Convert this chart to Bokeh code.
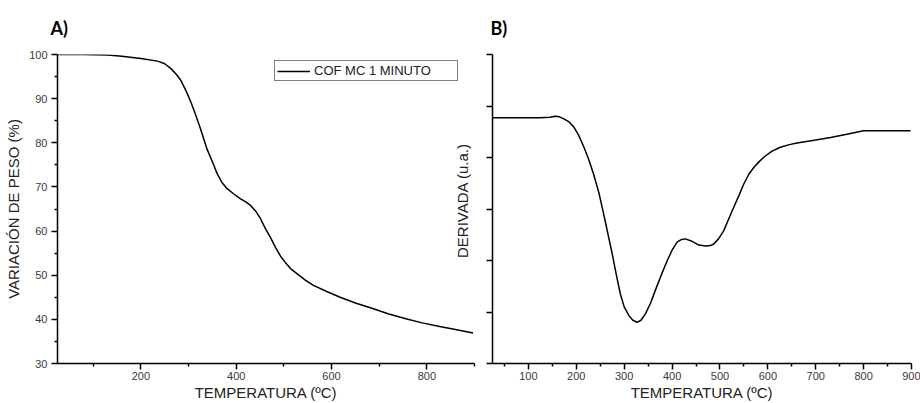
from bokeh.plotting import figure
from bokeh.layouts import row
from bokeh.models import FixedTicker, Label, Range1d
from bokeh.embed import file_html
from bokeh.resources import INLINE
import math

# ---- Panel A: TGA (weight %) ----
temp_a = [25, 80, 130, 160, 200, 235, 250, 263, 275, 284, 295, 305, 315, 325, 339,
          353, 360, 370, 381, 395, 409, 420, 430, 441, 451, 461, 472, 483, 493, 503,
          514, 528, 545, 562, 590, 618, 650, 688, 720, 758, 790, 827, 860, 897]
peso_a = [100.0, 100.0, 99.9, 99.6, 99.1, 98.5, 97.9, 96.8, 95.4, 94.1, 91.7, 89.2, 86.3,
          83.2, 78.5, 74.9, 73.0, 71.0, 69.6, 68.4, 67.3, 66.6, 65.8, 64.5, 62.8, 60.6,
          58.5, 56.2, 54.3, 52.9, 51.5, 50.3, 48.9, 47.7, 46.3, 45.0, 43.7, 42.4, 41.2,
          40.1, 39.2, 38.4, 37.7, 36.9]

# ---- Panel B: DTG (derivative, arbitrary units) ----
temp_b = [25, 100, 125, 145, 155, 165, 174, 185, 195, 205, 216, 226, 236, 247, 257, 266,
          275, 283, 292, 300, 310, 318, 327, 335, 344, 355, 365, 378, 390, 400, 411, 420,
          428, 440, 456, 470, 480, 487, 497, 508, 518, 529, 540, 550, 560, 571, 582, 592,
          608, 626, 645, 661, 700, 731, 765, 800, 850, 898]
deriv_b = [4.77, 4.77, 4.77, 4.78, 4.80, 4.79, 4.75, 4.69, 4.59, 4.43, 4.20, 3.96, 3.68,
           3.32, 2.91, 2.52, 2.13, 1.75, 1.35, 1.10, 0.93, 0.84, 0.80, 0.84, 0.96, 1.17,
           1.42, 1.73, 2.00, 2.20, 2.36, 2.41, 2.42, 2.38, 2.30, 2.28, 2.29, 2.32, 2.42,
           2.58, 2.80, 3.04, 3.27, 3.49, 3.67, 3.81, 3.92, 4.01, 4.12, 4.20, 4.25, 4.28,
           4.34, 4.39, 4.45, 4.52, 4.52, 4.52]

xticks_a = [200, 400, 600, 800]
xminor_a = [100, 300, 500, 700, 900]
yticks_a = [30, 40, 50, 60, 70, 80, 90, 100]
yminor_a = [35, 45, 55, 65, 75, 85, 95]
xticks_b = [100, 200, 300, 400, 500, 600, 700, 800, 900]
xminor_b = [50, 150, 250, 350, 450, 550, 650, 750, 850]
yticks_b = [0, 1, 2, 3, 4, 5, 6]

legend_text = "COF MC 1 MINUTO"
xlabel = "TEMPERATURA (ºC)"
ylabel_a = "VARIACIÓN DE PESO (%)"
ylabel_b = "DERIVADA (u.a.)"

FONT = "Liberation Sans"


def style_axes(p):
    for ax in (p.xaxis[0], p.yaxis[0]):
        ax.axis_line_color = "black"
        ax.axis_line_width = 1.5
        ax.major_tick_line_color = "black"
        ax.major_tick_line_width = 1.5
        ax.minor_tick_line_color = "black"
        ax.minor_tick_line_width = 1.5
        ax.major_tick_out = 6
        ax.major_tick_in = 0
        ax.minor_tick_out = 3
        ax.minor_tick_in = 0
        ax.major_label_text_font = FONT
        ax.major_label_text_font_size = "11px"
        ax.major_label_text_color = "#3a3a3a"
        ax.axis_label_text_font = FONT
        ax.axis_label_text_font_size = "15px"
        ax.axis_label_text_font_style = "normal"
        ax.axis_label_text_color = "#222222"
    p.xaxis.major_label_standoff = 2
    p.xaxis.axis_label_standoff = 1
    p.yaxis.major_label_standoff = 4
    p.yaxis.axis_label_standoff = 4
    p.xgrid.visible = False
    p.ygrid.visible = False
    p.outline_line_color = None
    p.title.text_font = "Lato"
    p.title.text_font_size = "18px"
    p.title.text_font_style = "bold"
    p.title.text_color = "black"
    p.title.align = "left"
    p.title.vertical_align = "middle"
    p.title.standoff = 30


# Panel A
pa = figure(width=480, height=403, output_backend="svg", toolbar_location=None,
            x_range=Range1d(25, 900), y_range=Range1d(30, 100),
            min_border_left=57, min_border_right=6, min_border_top=54,
            min_border_bottom=40, title="A)")
pa.line(temp_a, peso_a, line_color="black", line_width=1.5, legend_label=legend_text)
pa.xaxis.ticker = FixedTicker(ticks=xticks_a, minor_ticks=xminor_a)
pa.yaxis.ticker = FixedTicker(ticks=yticks_a, minor_ticks=yminor_a)
pa.xaxis.axis_label = xlabel
pa.yaxis.axis_label = ylabel_a
style_axes(pa)
pa.title.offset = -7

lg = pa.legend[0]
lg.location = (217, 282)
lg.border_line_color = "black"
lg.border_line_width = 1
lg.background_fill_color = "white"
lg.background_fill_alpha = 1
lg.padding = 2
lg.margin = 0
lg.spacing = 0
lg.glyph_width = 33
lg.glyph_height = 12
lg.label_height = 12
lg.label_standoff = 4
lg.label_width = 141
lg.label_text_font = FONT
lg.label_text_font_size = "13px"
lg.label_text_color = "#222222"

# Y-axis label of panel B (sits left of panel B's axis)
pa.add_layout(Label(x=875, y=66.9, text=ylabel_b, angle=math.pi / 2,
                    text_align="center", text_baseline="middle",
                    text_font=FONT, text_font_size="15px", text_color="#222222"))

# Panel B
pb = figure(width=440, height=403, output_backend="svg", toolbar_location=None,
            x_range=Range1d(25, 900), y_range=Range1d(0, 6),
            min_border_left=12, min_border_right=9, min_border_top=54,
            min_border_bottom=40, title="B)")
pb.line(temp_b, deriv_b, line_color="black", line_width=1.5)
pb.xaxis.ticker = FixedTicker(ticks=xticks_b, minor_ticks=xminor_b)
pb.yaxis.ticker = FixedTicker(ticks=yticks_b, minor_ticks=[])
pb.yaxis.major_label_overrides = {t: "" for t in yticks_b}
pb.xaxis.axis_label = xlabel
style_axes(pb)
pb.yaxis.major_label_standoff = 0
pb.title.offset = -2

layout = row(pa, pb)
open("out.html", "w").write(file_html(layout, INLINE))
